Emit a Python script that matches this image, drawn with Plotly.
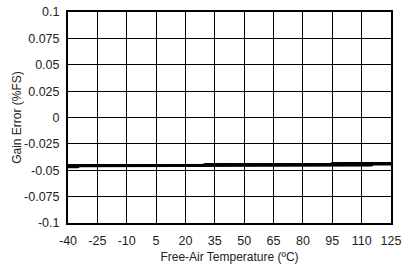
import plotly.graph_objects as go

temp_a = [-40, -35, -34, 50, 51, 115, 116, 125]
gain_a = [-0.0466, -0.0466, -0.0457, -0.0457, -0.0450, -0.0450, -0.0440, -0.0440]
temp_b = [-40, 29, 30, 94, 95, 125]
gain_b = [-0.0455, -0.0455, -0.0445, -0.0445, -0.0435, -0.0435]

x_ticks = [-40, -25, -10, 5, 20, 35, 50, 65, 80, 95, 110, 125]
y_ticks = [-0.1, -0.075, -0.05, -0.025, 0, 0.025, 0.05, 0.075, 0.1]
y_labels = ["-0.1", "-0.075", "-0.05", "-0.025", "0", "0.025", "0.05", "0.075", "0.1"]

fig = go.Figure()
fig.add_trace(go.Scatter(x=temp_a, y=gain_a, mode="lines",
                         line=dict(color="black", width=3), showlegend=False))
fig.add_trace(go.Scatter(x=temp_b, y=gain_b, mode="lines",
                         line=dict(color="black", width=3), showlegend=False))

font = dict(family="Liberation Sans, Arial, sans-serif", size=12, color="#222")
tick_font = dict(family="Liberation Sans, Arial, sans-serif", size=12.5, color="#222")
fig.update_layout(
    width=406, height=267,
    margin=dict(l=68, r=15, t=5, b=41),
    paper_bgcolor="white", plot_bgcolor="white",
    font=font,
    xaxis=dict(range=[-40, 125], tickvals=x_ticks, ticktext=[str(v) for v in x_ticks],
               tickfont=tick_font,
               showgrid=True, gridcolor="black", gridwidth=1,
               showline=True, linecolor="black", linewidth=2, mirror=True,
               zeroline=False, ticks="", ticklen=0, ticklabelstandoff=5,
               title=dict(text="Free-Air Temperature (ºC)", font=font, standoff=6)),
    yaxis=dict(range=[-0.1, 0.1], tickvals=y_ticks, ticktext=y_labels,
               tickfont=tick_font,
               showgrid=True, gridcolor="black", gridwidth=1,
               showline=True, linecolor="black", linewidth=2, mirror=True,
               zeroline=False, ticks="", ticklen=0, ticklabelstandoff=4,
               title=dict(text="Gain Error (%FS)", font=font, standoff=0)),
)
fig.write_html("out.html")
